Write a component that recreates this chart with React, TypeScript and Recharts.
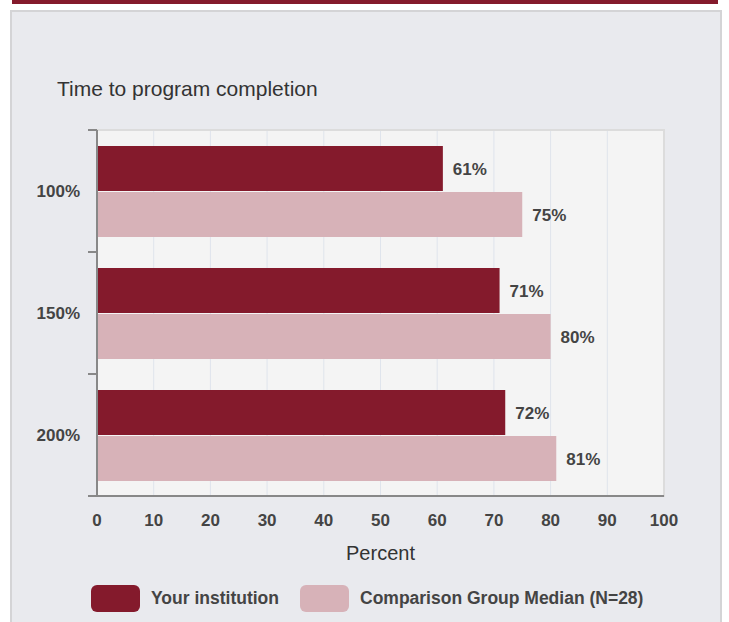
import React from "react";
import {
  BarChart,
  Bar,
  XAxis,
  YAxis,
  CartesianGrid,
  LabelList,
  ReferenceArea,
} from "recharts";

const categories = ["100%", "150%", "200%"];
const yourInstitution = [61, 71, 72];
const comparisonMedian = [75, 80, 81];
const xTicks = [0, 10, 20, 30, 40, 50, 60, 70, 80, 90, 100];
const seriesNames = ["Your institution", "Comparison Group Median (N=28)"];
const title = "Time to program completion";
const xLabel = "Percent";

const DARK = "#841a2c";
const LIGHT = "#d7b2b8";
const FONT = "'Liberation Sans', Arial, sans-serif";
const TEXT = "#444";

const data = categories.map((c, i) => ({
  name: c,
  yours: yourInstitution[i],
  comp: comparisonMedian[i],
}));

const YTick = (props: any) => {
  const { x, y, payload } = props;
  const off = payload && typeof payload.offset === "number" ? payload.offset : 0;
  return (
    <g>
      <line x1={x + 8} x2={x + 17} y1={y - off} y2={y - off} stroke="#888" strokeWidth={2} />
      <line x1={x + 8} x2={x + 17} y1={y + off} y2={y + off} stroke="#888" strokeWidth={2} />
      <text
        x={x}
        y={y}
        dy="0.355em"
        textAnchor="end"
        fill={TEXT}
        fontSize={17}
        fontWeight="bold"
        fontFamily={FONT}
      >
        {payload.value}
      </text>
    </g>
  );
};

export default function App() {
  return (
    <div
      style={{
        position: "absolute",
        left: 0,
        top: 0,
        width: 729,
        height: 622,
        background: "#ffffff",
        overflow: "hidden",
        fontFamily: FONT,
      }}
    >
      <div
        style={{
          position: "absolute",
          left: 12,
          top: 0,
          width: 706,
          height: 4,
          background: DARK,
        }}
      />
      <div
        style={{
          position: "absolute",
          left: 10,
          top: 10,
          width: 708,
          height: 620,
          background: "#e9eaee",
          border: "2px solid #d4d4d6",
        }}
      />
      <div
        style={{
          position: "absolute",
          left: 57,
          top: 77,
          fontSize: 21,
          color: "#333",
          whiteSpace: "nowrap",
        }}
      >
        {title}
      </div>
      <div style={{ position: "absolute", left: 0, top: 0 }}>
        <BarChart
          width={729}
          height={622}
          data={data}
          layout="vertical"
          margin={{ top: 130, right: 65, bottom: 66, left: 0 }}
          barCategoryGap={16}
          barGap={1}
        >
          <CartesianGrid
            horizontal={false}
            stroke="#dfe4ec"
            fill="#f4f4f4"
            fillOpacity={1}
          />
          <ReferenceArea
            x1={0}
            x2={100}
            fill="none"
            stroke="#dcdcdc"
            strokeWidth={2}
            ifOverflow="visible"
          />
          <XAxis
            type="number"
            domain={[0, 100]}
            ticks={xTicks}
            interval={0}
            height={60}
            tickLine={false}
            tickMargin={12}
            axisLine={{ stroke: "#888", strokeWidth: 2 }}
            tick={{ fill: TEXT, fontSize: 17, fontWeight: "bold", fontFamily: FONT }}
            label={{
              value: xLabel,
              position: "insideBottom",
              offset: -4,
              fill: "#333",
              fontSize: 20,
              fontFamily: FONT,
            }}
          />
          <YAxis
            type="category"
            dataKey="name"
            width={97}
            tickSize={9}
            tickMargin={8}
            tickLine={false}
            axisLine={{ stroke: "#888", strokeWidth: 2 }}
            tick={<YTick />}
          />
          <Bar dataKey="yours" fill={DARK} isAnimationActive={false}>
            <LabelList
              dataKey="yours"
              position="right"
              offset={10}
              formatter={(v: any) => `${v}%`}
              fill={TEXT}
              fontSize={17}
              fontWeight="bold"
              fontFamily={FONT}
            />
          </Bar>
          <Bar dataKey="comp" fill={LIGHT} isAnimationActive={false}>
            <LabelList
              dataKey="comp"
              position="right"
              offset={10}
              formatter={(v: any) => `${v}%`}
              fill={TEXT}
              fontSize={17}
              fontWeight="bold"
              fontFamily={FONT}
            />
          </Bar>
        </BarChart>
      </div>
      <div
        style={{
          position: "absolute",
          left: 91,
          top: 585,
          display: "flex",
          alignItems: "center",
          fontSize: 17.5,
          fontWeight: "bold",
          color: TEXT,
          whiteSpace: "nowrap",
        }}
      >
        <div style={{ width: 49, height: 27, borderRadius: 6, background: DARK }} />
        <span style={{ marginLeft: 11 }}>{seriesNames[0]}</span>
        <div
          style={{ width: 49, height: 27, borderRadius: 6, background: LIGHT, marginLeft: 21 }}
        />
        <span style={{ marginLeft: 11 }}>{seriesNames[1]}</span>
      </div>
    </div>
  );
}
